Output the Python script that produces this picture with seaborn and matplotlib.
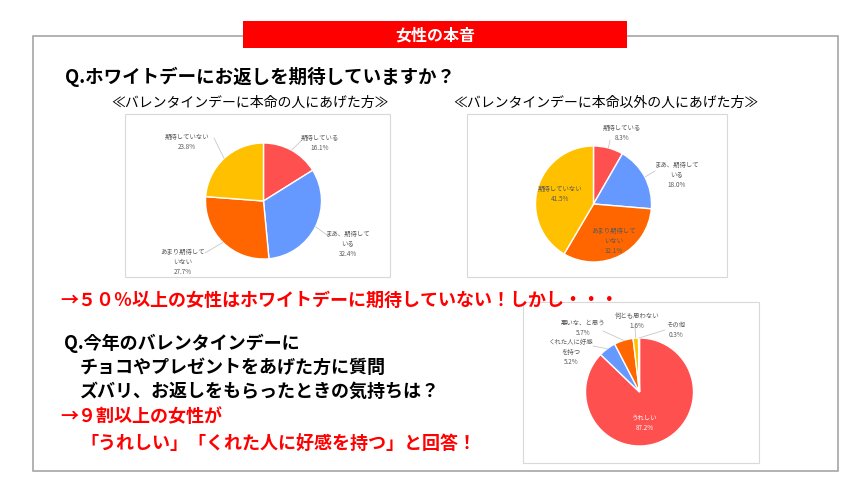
import matplotlib
matplotlib.use("Agg")
import matplotlib.pyplot as plt
import seaborn as sns
import numpy as np
from matplotlib.patches import Rectangle
from matplotlib.lines import Line2D

# ---------------- data ----------------
q1_categories = ["期待している", "まあ、期待している", "あまり期待していない", "期待していない"]
q1_honmei = [16.1, 32.4, 27.7, 23.8]
q1_other = [8.3, 18.0, 32.1, 41.5]
q2_categories = ["うれしい", "くれた人に好感を持つ", "悪いな、と思う", "何とも思わない", "その他"]
q2_values = [87.2, 5.2, 5.7, 1.6, 0.3]

# display versions of the category names (line breaks as in the reference)
q1_display = ["期待している", "まあ、期待して\nいる", "あまり期待して\nいない", "期待していない"]
q2_display = ["うれしい", "くれた人に好感\nを持つ", "悪いな、と思う", "何とも思わない", "その他"]

# ---------------- style ----------------
W, H = 867, 489
sns.set_theme(style="white")
plt.rcParams['font.family'] = ['Noto Sans CJK JP', 'DejaVu Sans']

pal4 = ["#FF5050", "#6699FF", "#FF6600", "#FFC000"]
pal5 = pal4 + ["#A5A5A5"]

fig = plt.figure(figsize=(W / 100, H / 100), dpi=100)
fig.patch.set_facecolor("white")


def fx(x):
    return x / W


def fy(y):
    return 1 - y / H


def rect(x0, y0, x1, y1, **kw):
    r = Rectangle((fx(x0), fy(y1)), (x1 - x0) / W, (y1 - y0) / H,
                  transform=fig.transFigure, **kw)
    fig.patches.append(r)


# outer frame
rect(33, 37, 838, 472, fill=False, edgecolor="#A6A6A6", linewidth=1.2, zorder=1)
# red banner
rect(243, 22, 627, 49, facecolor="#FF0000", edgecolor="none", zorder=2)
fig.text(fx(435), fy(36), "女性の本音", color="white", fontsize=11.5,
         weight="bold", ha="center", va="center", zorder=3)

# chart boxes
rect(125, 115, 390, 278, fill=False, edgecolor="#D9D9D9", linewidth=0.8)
rect(467, 115, 727, 278, fill=False, edgecolor="#D9D9D9", linewidth=0.8)
rect(523, 303, 759, 464, fill=False, edgecolor="#D9D9D9", linewidth=0.8)

# headings
fig.text(fx(65), fy(77), "Q.ホワイトデーにお返しを期待していますか？",
         fontsize=13.3, weight="bold", ha="left", va="center", color="black")
fig.text(fx(250), fy(103), "≪バレンタインデーに本命の人にあげた方≫",
         fontsize=10, ha="center", va="center", color="black")
fig.text(fx(606), fy(103), "≪バレンタインデーに本命以外の人にあげた方≫",
         fontsize=10, ha="center", va="center", color="black")

fig.text(fx(60), fy(300), "→５０％以上の女性はホワイトデーに期待していない！しかし・・・",
         fontsize=13, weight="bold", ha="left", va="center", color="#FF0000")
fig.text(fx(64), fy(343), "Q.今年のバレンタインデーに",
         fontsize=13, weight="bold", ha="left", va="center", color="black")
fig.text(fx(80), fy(367), "チョコやプレゼントをあげた方に質問",
         fontsize=13, weight="bold", ha="left", va="center", color="black")
fig.text(fx(80), fy(391), "ズバリ、お返しをもらったときの気持ちは？",
         fontsize=13, weight="bold", ha="left", va="center", color="black")
fig.text(fx(60), fy(417), "→９割以上の女性が",
         fontsize=13, weight="bold", ha="left", va="center", color="#FF0000")
fig.text(fx(80), fy(443), "「うれしい」「くれた人に好感を持つ」と回答！",
         fontsize=13, weight="bold", ha="left", va="center", color="#FF0000")


def draw_pie(cx, cy, r, values, colors, names, label_xy, anchors, text_colors):
    ax = fig.add_axes([fx(cx - r), fy(cy + r), 2 * r / W, 2 * r / H])
    wedges, _ = ax.pie(values, colors=colors, startangle=90, counterclock=False,
                       wedgeprops=dict(edgecolor="white", linewidth=1.0))
    ax.set_xlim(-1, 1)
    ax.set_ylim(-1, 1)
    ax.axis("off")
    for w in wedges:
        w.set_clip_on(False)
    for i, w in enumerate(wedges):
        lx, ly = label_xy[i]
        fig.text(fx(lx), fy(ly), f"{names[i]}\n{values[i]:.1f}%", fontsize=4.6,
                 color=text_colors[i], ha="center", va="center",
                 linespacing=1.35)
        if anchors[i] is not None:
            mid = np.deg2rad((w.theta1 + w.theta2) / 2)
            ex = cx + r * np.cos(mid)
            ey = cy - r * np.sin(mid)
            ax2, ay2 = anchors[i]
            fig.lines.append(Line2D([fx(ex), fx(ax2)], [fy(ey), fy(ay2)],
                                    transform=fig.transFigure,
                                    color="#C8C8C8", linewidth=0.6))


grey = "#595959"
draw_pie(263.5, 202, 58, q1_honmei, pal4, q1_display,
         [(320, 143), (348, 244), (183, 262), (187, 142)],
         [(302, 141), (327, 236), (205, 254), (214, 139)],
         [grey, grey, grey, grey])

draw_pie(593.5, 205, 58, q1_other, pal4, q1_display,
         [(622, 133), (677, 175), (614, 241), (560, 194)],
         [(610, 141), (655, 172), None, None],
         [grey, grey, grey, grey])

draw_pie(639.5, 393, 54, q2_values, pal5, q2_display,
         [(645, 423), (571, 352), (583, 328), (637, 321), (676, 330)],
         [None, (593, 347), (603, 332), (635, 328), (665, 331)],
         ["white", grey, grey, grey, grey])

fig.savefig("out.png", dpi=100, facecolor="white")
